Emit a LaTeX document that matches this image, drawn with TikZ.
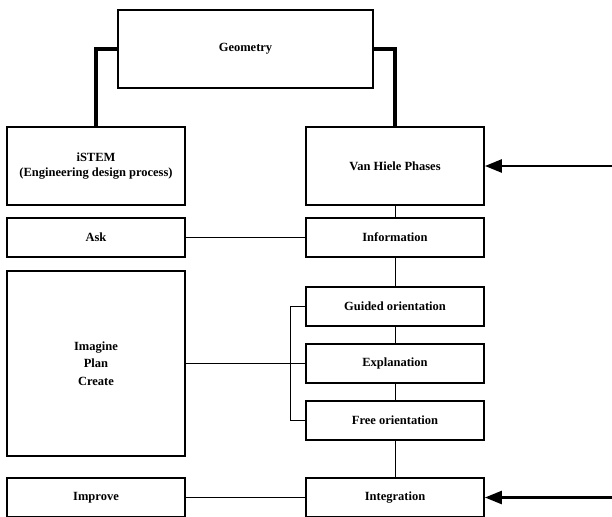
\documentclass[tikz,border=0pt]{standalone}
\usepackage{fontspec}
\setmainfont{Liberation Serif}
\usetikzlibrary{arrows.meta, positioning, calc}

\begin{document}
\begin{tikzpicture}[
        x=1pt, y=-1pt,
        block/.style={draw, line width=1.8pt, minimum width=178pt, minimum height=39pt, align=center, inner sep=2pt, font=\fontsize{12.5}{15}\selectfont\bfseries},
        thickline/.style={line width=4pt},
        link/.style={line width=0.8pt},
        arrow/.style={-{Triangle[length=17pt, width=13pt]}, line width=2.6pt}
    ]
        \clip (0,0) rectangle (612,516);
        \useasboundingbox (0,0) rectangle (612,516);

        % Top
        \node[block, minimum width=255pt, minimum height=78pt] (geo) at (245.5, 49) {Geometry};

        % Left column
        \node[block, minimum height=78pt] (istem) at (96, 166) {iSTEM\\(Engineering design process)};
        \node[block] (ask) at (96, 237.5) {Ask};
        \node[block, minimum height=185pt] (imag) at (96, 363.5) {Imagine\\[2.5pt]Plan\\[2.5pt]Create};
        \node[block] (improve) at (96, 497.5) {Improve};

        % Right column
        \node[block, minimum height=78pt] (vh) at (395, 166) {Van Hiele Phases};
        \node[block] (info) at (395, 237.5) {Information};
        \node[block] (guided) at (395, 306.5) {Guided orientation};
        \node[block] (expl) at (395, 363.5) {Explanation};
        \node[block] (free) at (395, 420.5) {Free orientation};
        \node[block] (integ) at (395, 497.5) {Integration};

        % Geometry links
        \draw[thickline] (geo.west) -| (istem.north);
        \draw[thickline] (geo.east) -| (vh.north);

        % Phase chain
        \draw[link] (vh) -- (info);
        \draw[link] (info) -- (guided);
        \draw[link] (guided) -- (expl);
        \draw[link] (expl) -- (free);
        \draw[link] (free) -- (integ);

        % Cross links
        \draw[link] (ask) -- (info);
        \draw[link] (imag.east) -- (expl.west);
        \draw[link] (guided.west) -- ++(-15,0) |- (free.west);
        \draw[link] (improve) -- (integ);

        % Inputs
        \coordinate (vhin) at (612, 166);
        \coordinate (integin) at (612, 497.5);
        \draw[arrow] (vhin) -- (vh.east);
        \draw[arrow] (integin) -- (integ.east);
    \end{tikzpicture}
\end{document}
